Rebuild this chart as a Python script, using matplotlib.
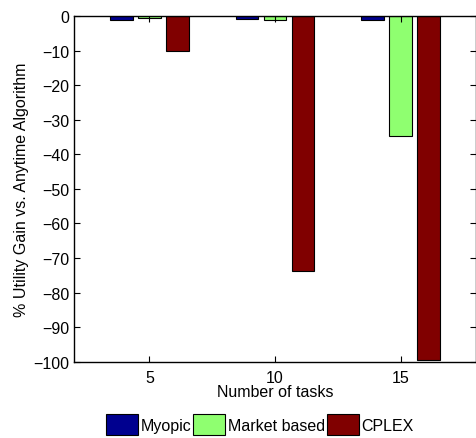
import matplotlib
matplotlib.use("Agg")
import matplotlib.pyplot as plt
import numpy as np

tasks = [5, 10, 15]
myopic = [-1.0, -0.7, -1.0]
market = [-0.5, -1.0, -34.8]
cplex = [-10.0, -73.8, -99.4]
series_names = ["Myopic", "Market based", "CPLEX"]
series_colors = ["#00008F", "#8FFF70", "#800000"]

plt.rcParams['font.family'] = ['Liberation Sans', 'DejaVu Sans']
plt.rcParams['font.size'] = 11.5

fig = plt.figure(figsize=(4.77, 4.39), dpi=100)
ax = fig.add_axes([0.155, 0.174, 0.843, 0.787])

x = np.array(tasks, dtype=float)
offset = 1.11
width = 0.9
for i, (vals, name, col) in enumerate(zip([myopic, market, cplex], series_names, series_colors)):
    ax.bar(x + (i - 1) * offset, vals, width, color=col, edgecolor='black',
           linewidth=0.8, label=name)

ax.set_xlim(2, 18)
ax.set_ylim(-100, 0)
ax.set_xticks(tasks)
ax.set_yticks(range(-100, 1, 10))
ax.tick_params(direction='in', top=True, right=True, length=4, width=0.8)
ax.tick_params(axis='x', pad=6)
for s in ax.spines.values():
    s.set_linewidth(1.0)
ax.set_xlabel("Number of tasks", labelpad=-1)
ax.set_ylabel("% Utility Gain vs. Anytime Algorithm", labelpad=3)

fig.legend(loc='lower center', bbox_to_anchor=(0.545, -0.008), ncol=3, frameon=False,
           handlelength=2.0, handleheight=1.7, handletextpad=0.15, columnspacing=0.15,
           borderaxespad=0.0, fontsize=11.5)

fig.savefig("out.png", dpi=100)
